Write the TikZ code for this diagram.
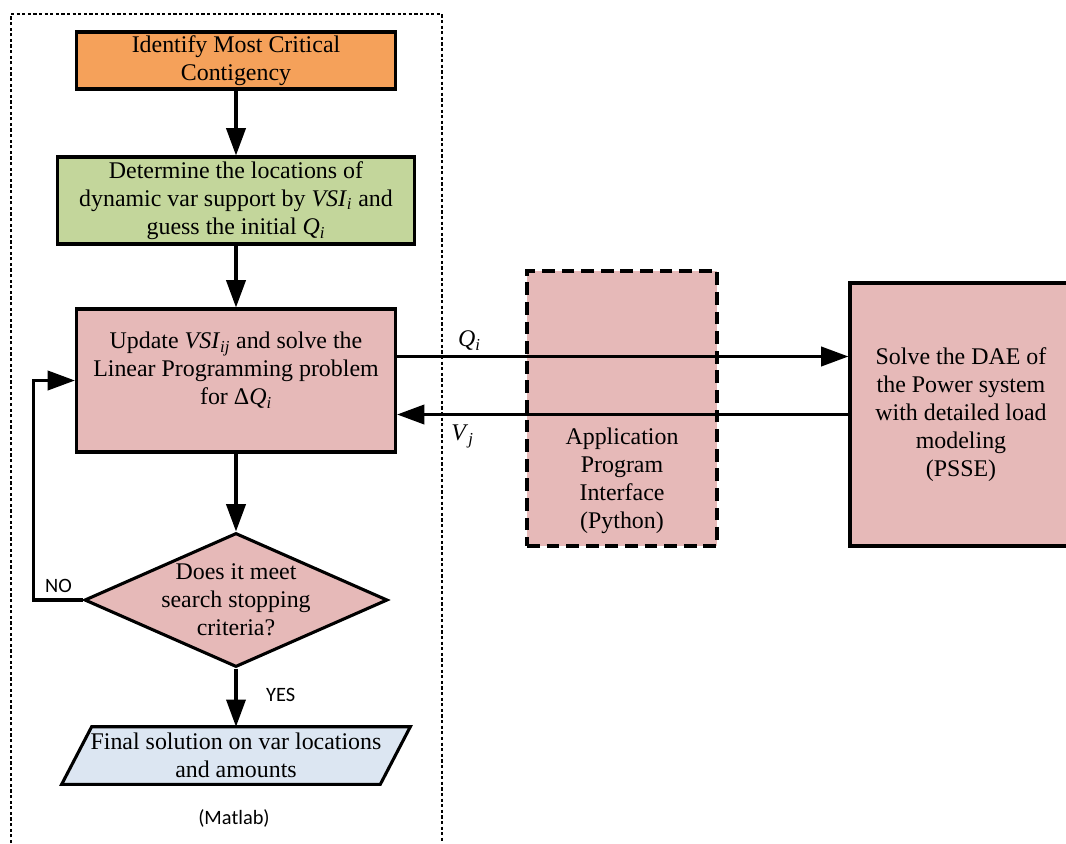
\documentclass[tikz,border=0pt]{standalone}
\usepackage{fontspec}
\setmainfont{Liberation Serif}
\newfontfamily\calibfont{Carlito}
\usetikzlibrary{arrows.meta,shapes.geometric,calc,backgrounds}
\definecolor{critorange}{RGB}{245,161,90}
\definecolor{locgreen}{RGB}{195,214,155}
\definecolor{boxpink}{RGB}{230,185,184}
\definecolor{finblue}{RGB}{220,230,242}
\newcommand{\ivar}[2]{\textit{#1}\textsubscript{\textit{#2}}}

\begin{document}
\begin{tikzpicture}[x=0.025cm, y=-0.025cm,
   font=\fontsize{17}{20}\selectfont,
   blk/.style={draw, line width=2.2pt, align=center, inner sep=2pt},
   arr/.style={line width=2.2pt, -{Triangle[length=0.68cm, width=0.48cm]}},
   lbl/.style={font=\calibfont\fontsize{14.5}{17}\selectfont}]%
   % Laid out in pixels: 1 unit = 0.025 cm, y grows downwards
   \useasboundingbox (0,0) rectangle (1066,843);

   % Matlab frame (dotted, open at the bottom)
   \draw[line width=2pt, dash pattern=on 0.08cm off 0.06cm]
     (11,843) -- (11,14) -- (442,14) -- (442,843);
   \node[lbl] (matlab) at (234,818) {(Matlab)};

   % Flow chart blocks
   \node[blk, fill=critorange, minimum width=7.975cm, minimum height=1.425cm]
     (crit) at (236,60.5) {Identify Most Critical\\Contigency};
   \node[blk, fill=locgreen, minimum width=8.925cm, minimum height=2.175cm]
     (loc) at (236,200.5) {Determine the locations of\\dynamic var support by \ivar{VSI}{i} and\\guess the initial \ivar{Q}{i}};
   \node[blk, fill=boxpink, minimum width=7.975cm, minimum height=3.575cm]
     (upd) at (236,380.5) {Update \ivar{VSI}{ij} and solve the\\Linear Programming problem\\for Δ\ivar{Q}{i}\\[-3pt]\mbox{}};
   \node[draw, diamond, line width=2.2pt, fill=boxpink, minimum width=7.575cm,
     minimum height=3.35cm, inner sep=0pt] (chk) at (236,600) {};
   \node[align=center] (chktxt) at (236,600) {Does it meet\\search stopping\\criteria?};
   \node[align=center, inner sep=0pt, minimum width=7.95cm, minimum height=1.425cm]
     (fin) at (236,755.5) {Final solution on var locations\\and amounts};
   \begin{scope}[on background layer]
     \draw[line width=2.2pt, fill=finblue]
       ($(fin.north west)+(15,0)$) -- ($(fin.north east)+(15,0)$) --
       ($(fin.south east)+(-15,0)$) -- ($(fin.south west)+(-15,0)$) -- cycle;
   \end{scope}

   % Interface and PSSE
   \node[draw, line width=2.2pt, dash pattern=on 0.32cm off 0.17cm, fill=boxpink,
     minimum width=4.75cm, minimum height=6.875cm] (api) at (622,408.5) {};
   \node[align=center] (apitxt) at (622,481) {Application\\Program\\Interface\\(Python)};
   \node[blk, fill=boxpink, minimum width=5.55cm, minimum height=6.575cm]
     (pss) at (961,414.5) {Solve the DAE of\\the Power system\\with detailed load\\modeling\\(PSSE)};

   % Connectors
   \draw[arr] (crit.south) -- (loc.north);
   \draw[arr] (loc.south) -- (upd.north);
   \draw[arr] (upd.south) -- (chk.north);
   \draw[arr] (chk.south) -- node[lbl, pos=0.45, right=0.6cm] {YES} (fin.north);
   \draw[arr] (chk.west) -- node[lbl, above=1pt] {NO} ++(-49,0) |- (upd.west);
   \draw[arr] ([yshift=0.6cm]upd.east) -- node[pos=0.16, above] {\ivar{Q}{i}}
     ([yshift=0.6cm]upd.east -| pss.west);
   \draw[arr] (pss.west) -- node[pos=0.855, below=3pt] {\ivar{V}{j}} (pss.west -| upd.east);
 \end{tikzpicture}
\end{document}
